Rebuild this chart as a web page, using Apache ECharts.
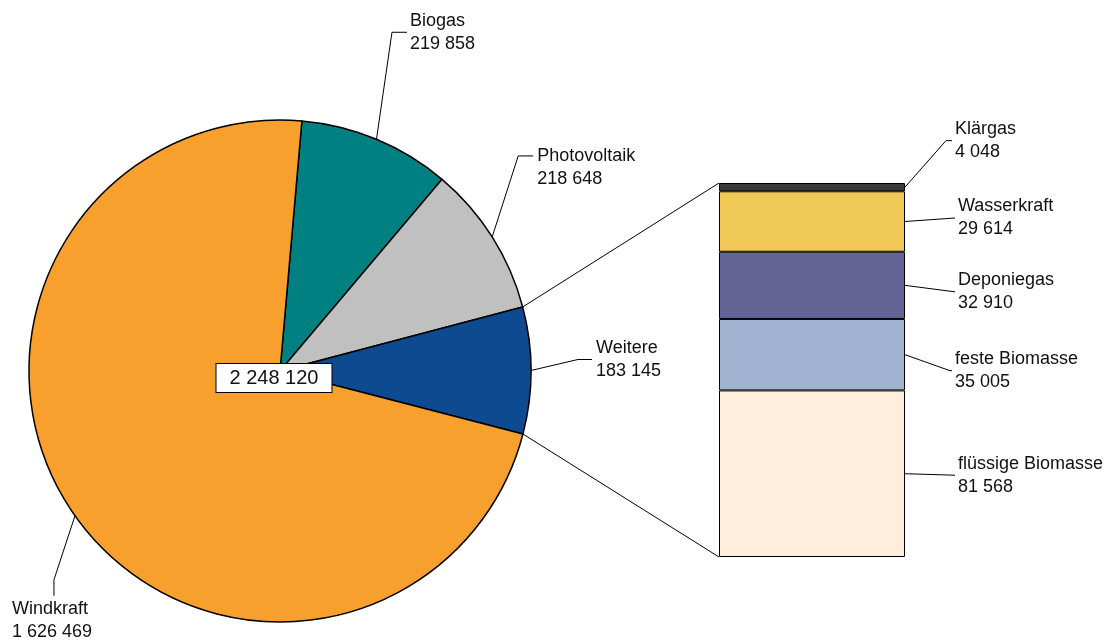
<!DOCTYPE html>
<html><head><meta charset="utf-8">
<script src="https://cdn.jsdelivr.net/npm/echarts@6/dist/echarts.min.js"></script>
<style>html,body{margin:0;padding:0;background:#fff}#c{width:1115px;height:641px}</style>
</head><body><div id="c"></div>
<script>
const pieNames = ['Biogas','Photovoltaik','Weitere','Windkraft'];
const pieValues = [219858, 218648, 183145, 1626469];
const barNames = ['Klärgas','Wasserkraft','Deponiegas','feste Biomasse','flüssige Biomasse'];
const barValues = [4048, 29614, 32910, 35005, 81568];

const pieColors = ['#008080','#C0C0C0','#0E4A90','#F8A02D'];
const barColors = ['#3A3A3A','#F0C855','#646496','#A0B4D2','#FFEEDC'];
const FONT = "'Liberation Sans', Arial, Helvetica, sans-serif";
const PIE = {cx: 280, cy: 371, r: 251, start: 85};
const fmt = v => String(v).replace(/\B(?=(\d{3})+(?!\d))/g, ' ');

const pieTotal = pieValues.reduce((a, b) => a + b, 0);
const barTotal = barValues.reduce((a, b) => a + b, 0);

function sliceAngles(i) {
  let cum = 0;
  for (let k = 0; k < i; k++) cum += pieValues[k];
  const a0 = PIE.start - 360 * cum / pieTotal;
  const a1 = a0 - 360 * pieValues[i] / pieTotal;
  return [a0, a1];
}
function edgePt(deg) {
  const r = deg * Math.PI / 180;
  return [PIE.cx + PIE.r * Math.cos(r), PIE.cy - PIE.r * Math.sin(r)];
}

// leader-line offsets (relative to slice edge midpoint)
const pieLead = [
  {elbow: [15.5, -107], end: [30.5, -107], text: [33.5, -107]},
  {elbow: [26, -81], end: [41, -81], text: [45, -69.5]},
  {elbow: [47, -11], end: [61, -11], text: [65, -11]},
  {elbow: [-21, 64], end: [-21, 80], text: [-63, 104.5]}
];
// leader-line offsets (relative to right edge midpoint of bar segment)
const barLead = [
  {elbow: [41, -46.5], end: [47, -46.5], text: [50, -47]},
  {elbow: [50, -3.5], end: [50, -3.5], text: [53, -3.5]},
  {elbow: [50, 6.5], end: [50, 6.5], text: [53, 6]},
  {elbow: [45, 16], end: [47, 16], text: [50, 16]},
  {elbow: [50, 1.5], end: [50, 1.5], text: [53, 1.5]}
];

const labelStyle = {fontFamily: FONT, fontSize: 18, lineHeight: 23, color: '#111'};

const chart = echarts.init(document.getElementById('c'));

const barSeries = [];
for (let i = barNames.length - 1; i >= 0; i--) {
  const idx = i;
  barSeries.push({
    type: 'bar', name: barNames[i], stack: 'w', data: [barValues[i]],
    barWidth: '100%', barCategoryGap: 0,
    itemStyle: {color: barColors[i], borderColor: '#000', borderWidth: 1},
    label: Object.assign({show: true, position: 'right',
      formatter: () => barNames[idx] + '\n' + fmt(barValues[idx])}, labelStyle),
    labelLayout: function (p) {
      const s = [p.rect.x + p.rect.width, p.rect.y + p.rect.height / 2];
      const L = barLead[idx];
      return {x: s[0] + L.text[0], y: s[1] + L.text[1], align: 'left', verticalAlign: 'middle'};
    },
    emphasis: {disabled: true}, silent: true, animation: false
  });
}

chart.setOption({
  animation: false,
  grid: {left: 719, top: 183, width: 186, height: 374},
  xAxis: {type: 'category', data: ['Weitere'], show: false},
  yAxis: {type: 'value', min: 0, max: barTotal, show: false},
  series: [{
    type: 'pie', center: [PIE.cx, PIE.cy], radius: PIE.r, startAngle: PIE.start, clockwise: true,
    avoidLabelOverlap: false, silent: true, animation: false,
    data: pieNames.map((n, i) => ({name: n, value: pieValues[i], itemStyle: {color: pieColors[i]}})),
    itemStyle: {borderColor: '#000', borderWidth: 1.5},
    label: Object.assign({show: true, position: 'outside',
      formatter: p => p.name + '\n' + fmt(p.value)}, labelStyle),
    labelLine: {show: true, lineStyle: {color: '#000', width: 1}},
    labelLayout: function (p) {
      const i = p.dataIndex;
      const [a0, a1] = sliceAngles(i);
      const s = edgePt((a0 + a1) / 2);
      const L = pieLead[i];
      return {
        x: s[0] + L.text[0], y: s[1] + L.text[1], align: 'left', verticalAlign: 'middle',
        labelLinePoints: [s, [s[0] + L.elbow[0], s[1] + L.elbow[1]], [s[0] + L.end[0], s[1] + L.end[1]]]
      };
    },
    emphasis: {disabled: true}
  }].concat(barSeries)
});

// connectors from the "Weitere" slice to the stacked bar
const wi = pieNames.indexOf('Weitere');
const [wa0, wa1] = sliceAngles(wi);
const pTop = edgePt(wa0), pBot = edgePt(wa1);
const gridRect = chart.getModel().getComponent('grid', 0).coordinateSystem.getRect();
const yTop = chart.convertToPixel({yAxisIndex: 0}, barTotal);
const yBot = chart.convertToPixel({yAxisIndex: 0}, 0);

const graphics = [
  {type: 'line', silent: true, shape: {x1: pTop[0], y1: pTop[1], x2: gridRect.x, y2: yTop},
   style: {stroke: '#000', lineWidth: 1}},
  {type: 'line', silent: true, shape: {x1: pBot[0], y1: pBot[1], x2: gridRect.x, y2: yBot},
   style: {stroke: '#000', lineWidth: 1}},
  {type: 'text', silent: true, z: 100, x: PIE.cx - 6, y: PIE.cy + 7,
   style: {text: fmt(pieTotal), font: '20px ' + FONT, fill: '#111', align: 'center', verticalAlign: 'middle',
     backgroundColor: '#fff', borderColor: '#000', borderWidth: 1, padding: [4, 13]}}
];
// bar segment leader lines
const xRight = gridRect.x + gridRect.width;
for (let i = 0; i < barNames.length; i++) {
  let below = 0;
  for (let k = i + 1; k < barNames.length; k++) below += barValues[k];
  const ym = chart.convertToPixel({yAxisIndex: 0}, below + barValues[i] / 2);
  const L = barLead[i];
  graphics.push({type: 'polyline', silent: true, z: 50,
    shape: {points: [[xRight, ym], [xRight + L.elbow[0], ym + L.elbow[1]], [xRight + L.end[0], ym + L.end[1]]]},
    style: {stroke: '#000', lineWidth: 1, fill: null}});
}
chart.setOption({graphic: graphics});
</script></body></html>
